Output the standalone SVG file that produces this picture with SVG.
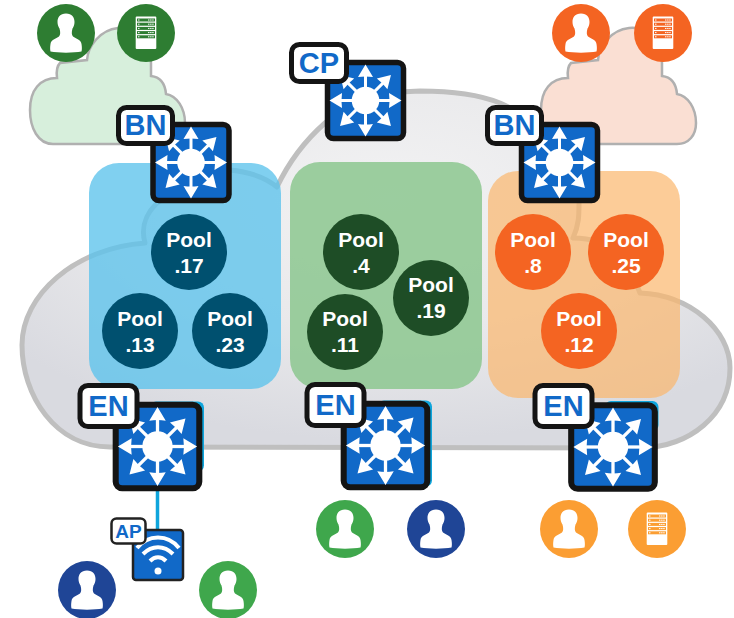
<svg xmlns="http://www.w3.org/2000/svg" width="734" height="618" viewBox="0 0 734 618">
<style>
text{font-family:"Liberation Sans",Arial,sans-serif;font-weight:700;text-anchor:middle}
.pool{fill:#fff;font-size:21px}
.tag{fill:#1169c8;font-size:29px}
.tagbox{fill:#fff;stroke:#141414;stroke-width:5}
.sbody{fill:#1169c8;stroke:#141414;stroke-width:5.5}
.w{fill:#fff}
.wl{stroke:#fff;stroke-width:3;fill:none}
.cloud{stroke:#b0b0b0;stroke-width:2.500}
.cyan{fill:#0fa5dc}
</style>
<defs>
<radialGradient id="bg" cx=".52" cy=".3" r=".68"><stop offset="0" stop-color="#f2f2f3"/><stop offset=".55" stop-color="#e9e9eb"/><stop offset="1" stop-color="#d9dae0"/></radialGradient>
<path id="small" d="M53 144C38 144 30 128 30 110C30 90 40 78 57 78C56 70 57 66 60 63L87 60C88 46 100 30 118 28C135 26 150 40 151 63L151 76C160 77 165 82 166 94C177 96 185 108 185 123C185 135 178 144 166 144Z"/>
<g id="arrow"><path class="wl" d="M0 0V-25"/><path class="w" d="M0 -36L-7.500 -23.500Q0 -24.500 7.500 -23.500Z"/></g>
<g id="sw">
<rect class="sbody" x="-38" y="-38" width="76" height="76" rx="6"/>
<use href="#arrow"/><use href="#arrow" transform="rotate(45)"/><use href="#arrow" transform="rotate(90)"/><use href="#arrow" transform="rotate(135)"/><use href="#arrow" transform="rotate(180)"/><use href="#arrow" transform="rotate(225)"/><use href="#arrow" transform="rotate(270)"/><use href="#arrow" transform="rotate(315)"/>
<circle class="w" r="13.800"/>
</g>
<path id="person" class="w" d="M0 -19.500C-6 -19.500 -8.500 -15.500 -8.500 -11C-8.500 -8 -7.500 -6 -6.500 -4.500C-5.500 -1 -5.500 2 -7 3.500C-10 6 -15 6.500 -15.500 11C-16 14 -16 17 -15.500 18.500C-8 20 8 20 15.500 18.500C16 17 16 14 15.500 11C15 6.500 10 6 7 3.500C5.500 2 5.500 -1 6.500 -4.500C7.500 -6 8.500 -8 8.500 -11C8.500 -15.500 6 -19.500 0 -19.500Z"/>
<g id="server"><rect class="w" x="-10.300" y="-16.500" width="20.600" height="32.500" rx="1"/><g fill="currentColor"><rect x="-9" y="-14.500" width="18" height="3"/><rect x="-9" y="-10.300" width="18" height="3"/><rect x="-9" y="-6.100" width="18" height="3"/><rect x="-9" y="-1.900" width="18" height="3"/><rect x="-9" y="2.300" width="18" height="3"/></g><path d="M-8 -13H-6.500M2 -13H8M-8 -8.800H-6.500M2 -8.800H8M-8 -4.600H-6.500M2 -4.600H8M-8 -0.400H-6.500M2 -0.400H8M-8 3.800H-6.500M2 3.800H8" stroke="#fff" stroke-width="1" stroke-dasharray="1.500 .6" fill="none"/></g>
</defs>

<g id="connectors"><path d="M157.500 488V532" stroke="#0fa5dc" stroke-width="3.500" fill="none"/></g>

<g id="cloud-left"><use href="#small" class="cloud" fill="#d7efdc"/></g>
<g id="cloud-right"><use href="#small" class="cloud" fill="#fadfd3" x="511"/></g>

<g id="cloud-main"><path d="M110 447C55 447 22 395 22 345C22 295 75 248 145 243C140 225 147 213 157 203C190 180 220 165 230 170C250 172 265 177 277 187C285 170 300 145 325 123C350 100 380 92 420 91C450 91 480 95 500 103C550 125 579 165 579 203C579 215 579 225 573 238C610 238 638 262 638 288L640 293C690 295 730 330 730 368C730 415 690 447 640 448Z" fill="url(#bg)" stroke="#bfbfbf" stroke-width="5" stroke-linejoin="round"/></g>

<g id="zone-blue"><rect x="89" y="163" width="192" height="226" rx="30" fill="#5cc3ec" fill-opacity=".78"/></g>
<g id="zone-green"><rect x="290" y="162" width="192" height="227" rx="30" fill="#8cc78f" fill-opacity=".85"/></g>
<g id="zone-orange"><rect x="488" y="171" width="192" height="227" rx="30" fill="#fbb76c" fill-opacity=".7"/></g>

<g id="pool-17"><circle cx="189" cy="252" r="38" fill="#00506f"/><text class="pool" x="189" y="247">Pool</text><text class="pool" x="189" y="273">.17</text></g>
<g id="pool-13"><circle cx="140" cy="331" r="38" fill="#00506f"/><text class="pool" x="140" y="326">Pool</text><text class="pool" x="140" y="352">.13</text></g>
<g id="pool-23"><circle cx="230" cy="331" r="38" fill="#00506f"/><text class="pool" x="230" y="326">Pool</text><text class="pool" x="230" y="352">.23</text></g>
<g id="pool-4"><circle cx="361" cy="252" r="38" fill="#1e4d26"/><text class="pool" x="361" y="247">Pool</text><text class="pool" x="361" y="273">.4</text></g>
<g id="pool-19"><circle cx="431" cy="298" r="38" fill="#1e4d26"/><text class="pool" x="431" y="292">Pool</text><text class="pool" x="431" y="318">.19</text></g>
<g id="pool-11"><circle cx="345" cy="332" r="38" fill="#1e4d26"/><text class="pool" x="345" y="326">Pool</text><text class="pool" x="345" y="352">.11</text></g>
<g id="pool-8"><circle cx="533" cy="252" r="38" fill="#f46422"/><text class="pool" x="533" y="247">Pool</text><text class="pool" x="533" y="273">.8</text></g>
<g id="pool-25"><circle cx="626" cy="252" r="38" fill="#f46422"/><text class="pool" x="626" y="247">Pool</text><text class="pool" x="626" y="273">.25</text></g>
<g id="pool-12"><circle cx="579" cy="331" r="38" fill="#f46422"/><text class="pool" x="579" y="326">Pool</text><text class="pool" x="579" y="352">.12</text></g>

<g id="cp"><use href="#sw" transform="translate(365.500 100.500)"/><rect class="tagbox" x="291.500" y="44.500" width="55" height="37" rx="8"/><text class="tag" x="319" y="72.500">CP</text></g>
<g id="bn-left"><use href="#sw" transform="translate(191 162.500)"/><rect class="tagbox" x="118.500" y="107.500" width="54" height="36" rx="8"/><text class="tag" x="145.500" y="135">BN</text></g>
<g id="bn-right"><use href="#sw" transform="translate(559.500 162.500)"/><rect class="tagbox" x="487.500" y="107.500" width="54" height="36" rx="8"/><text class="tag" x="514.500" y="135">BN</text></g>

<g id="en-left"><rect class="cyan" x="150" y="401.500" width="54" height="70" rx="6"/><use href="#sw" transform="translate(157.500 446.500) scale(1.100)"/><rect class="tagbox" x="80" y="385.500" width="57" height="41" rx="8"/><text class="tag" x="108.500" y="416">EN</text></g>
<g id="en-mid"><rect class="cyan" x="378" y="400.500" width="54" height="86" rx="6"/><use href="#sw" transform="translate(385.500 445.500) scale(1.100)"/><rect class="tagbox" x="307" y="384.500" width="57" height="41" rx="8"/><text class="tag" x="335.500" y="415">EN</text></g>
<g id="en-right"><rect class="cyan" x="605" y="401" width="53.500" height="30" rx="6"/><use href="#sw" transform="translate(613 447) scale(1.100)"/><rect class="tagbox" x="535" y="385.500" width="57" height="41" rx="8"/><text class="tag" x="563.500" y="416">EN</text></g>

<g id="ap"><rect x="133" y="530" width="50" height="50" rx="3" fill="#1169c8" stroke="#222" stroke-width="2.500"/><path d="M137 548C148 534 168 534 179 548M143 554C152 545 164 545 173 554M150 561C155 556 161 556 166 561" fill="none" stroke="#fff" stroke-width="4"/><circle class="w" cx="158" cy="571" r="3.500"/><rect x="111.500" y="518.500" width="34" height="25" rx="5" fill="#fff" stroke="#222" stroke-width="2.500"/><text x="128.500" y="538" fill="#1169c8" font-size="19px">AP</text></g>

<g id="user-dg"><circle cx="66" cy="33" r="29" fill="#2e7d32"/><use href="#person" x="66" y="33"/></g>
<g id="server-dg" color="#2e7d32"><circle cx="146" cy="33" r="29" fill="#2e7d32"/><use href="#server" x="146" y="33"/></g>
<g id="user-o"><circle cx="581" cy="33" r="29" fill="#f46422"/><use href="#person" x="581" y="33"/></g>
<g id="server-o" color="#f46422"><circle cx="663" cy="33" r="29" fill="#f46422"/><use href="#server" x="663" y="33"/></g>
<g id="user-g"><circle cx="345" cy="529" r="29" fill="#3fa74c"/><use href="#person" x="345" y="529"/></g>
<g id="user-b"><circle cx="436" cy="529" r="29" fill="#1f4596"/><use href="#person" x="436" y="529"/></g>
<g id="user-lo"><circle cx="569" cy="529" r="29" fill="#fb9e33"/><use href="#person" x="569" y="529"/></g>
<g id="server-lo" color="#fb9e33"><circle cx="657" cy="529" r="29" fill="#fb9e33"/><use href="#server" x="657" y="529"/></g>
<g id="user-b2"><circle cx="87" cy="590" r="29" fill="#1f4596"/><use href="#person" x="87" y="590"/></g>
<g id="user-g2"><circle cx="228" cy="590" r="29" fill="#3fa74c"/><use href="#person" x="228" y="590"/></g>
</svg>
